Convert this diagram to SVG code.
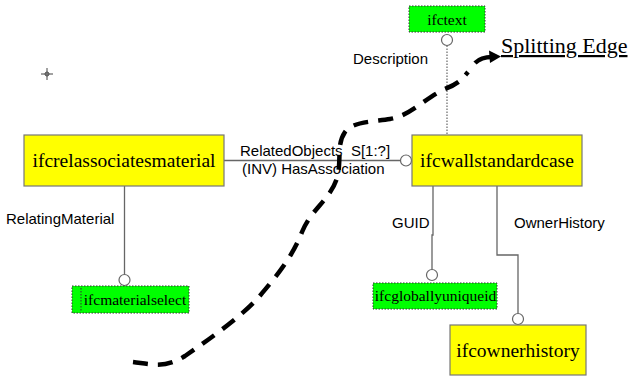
<svg xmlns="http://www.w3.org/2000/svg" width="630" height="376" viewBox="0 0 630 376">
<style>
.ent{fill:#ffff00;stroke:#777;stroke-width:1.2}
.sel{fill:#00ff00;stroke:#333;stroke-width:1;stroke-dasharray:1.5 1.5}
.big{font-family:"Liberation Serif","Times New Roman",serif;font-size:19.5px;fill:#000;text-anchor:middle}
.small{font-family:"Liberation Serif","Times New Roman",serif;font-size:15.5px;fill:#000;text-anchor:middle}
.lbl{font-family:"Liberation Sans",Arial,sans-serif;font-size:15px;fill:#000}
.con{fill:none;stroke:#666;stroke-width:1.3}
.dot{fill:none;stroke:#666;stroke-width:1.2;stroke-dasharray:1.5 1.5}
.end{fill:#fff;stroke:#666;stroke-width:1.2}
</style>
<rect width="630" height="376" fill="#fff"/>

<g id="connectors">
  <line class="con" x1="224" y1="160.5" x2="400.5" y2="160.5"/>
  <circle class="end" cx="406" cy="160.5" r="5.5"/>
  <line class="con" x1="124.5" y1="186" x2="124.5" y2="274.5"/>
  <circle class="end" cx="124.5" cy="280" r="5.5"/>
  <polyline class="con" points="433,186 433,235 432,235 432,269.5"/>
  <circle class="end" cx="432" cy="275" r="5.5"/>
  <polyline class="con" points="497,186 497,255 518,255 518,313.5"/>
  <circle class="end" cx="518" cy="319" r="5.5"/>
  <line class="dot" x1="447" y1="45.5" x2="447" y2="135"/>
  <circle class="end" cx="447" cy="40" r="5.5"/>
  <text class="lbl" x="240" y="156" xml:space="preserve">RelatedObjects  S[1:?]</text>
  <text class="lbl" x="242" y="174">(INV) HasAssociation</text>
  <text class="lbl" x="6" y="224">RelatingMaterial</text>
  <text class="lbl" x="392" y="228">GUID</text>
  <text class="lbl" x="514" y="228">OwnerHistory</text>
  <text class="lbl" x="353" y="64">Description</text>
</g>

<g id="ifcrelassociatesmaterial">
  <rect class="ent" x="24" y="135" width="200" height="51"/>
  <text class="big" x="124" y="167">ifcrelassociatesmaterial</text>
</g>
<g id="ifcwallstandardcase">
  <rect class="ent" x="412" y="135" width="170" height="51"/>
  <text class="big" x="497" y="167">ifcwallstandardcase</text>
</g>
<g id="ifcownerhistory">
  <rect class="ent" x="450" y="325" width="136" height="50"/>
  <text class="big" x="518" y="357">ifcownerhistory</text>
</g>
<g id="ifctext">
  <rect class="sel" x="409" y="6" width="76" height="26"/>
  <text class="small" x="447" y="24.5">ifctext</text>
</g>
<g id="ifcmaterialselect">
  <rect class="sel" x="72" y="286" width="117" height="27"/>
  <line x1="81" y1="288" x2="81" y2="311" stroke="#333" stroke-width="1" stroke-dasharray="1.5 1.5"/>
  <text class="small" x="135" y="304.5">ifcmaterialselect</text>
</g>
<g id="ifcgloballyuniqueid">
  <rect class="sel" x="373" y="283" width="124" height="26"/>
  <text class="small" x="435.5" y="301">ifcgloballyuniqueid</text>
</g>

<g id="splitting-edge">
  <path d="M133,362 C150,364 165,369 185,356 C205,342 240,318 258,298 C275,278 292,258 302,232 C312,208 330,200 337,178 C342,160 336,145 345,132 C352,122 370,122 390,119 C410,116 425,98 445,89 C460,83 463,78 468,72" fill="none" stroke="#000" stroke-width="4.5" stroke-dasharray="15 10"/>
  <path d="M475,63 C480,58 485,57 492,57" fill="none" stroke="#000" stroke-width="4.5"/>
  <polygon points="501,56.5 489,50.5 490,63" fill="#000"/>
  <text x="501" y="53" font-family="'Liberation Serif','Times New Roman',serif" font-size="22" text-decoration="underline" fill="#000">Splitting Edge</text>
</g>

<g id="crosshair" stroke="#444" stroke-width="1" fill="none">
  <line x1="41" y1="74" x2="53" y2="74"/>
  <line x1="47" y1="68" x2="47" y2="80"/>
  <circle cx="47" cy="74" r="2"/>
</g>
</svg>
